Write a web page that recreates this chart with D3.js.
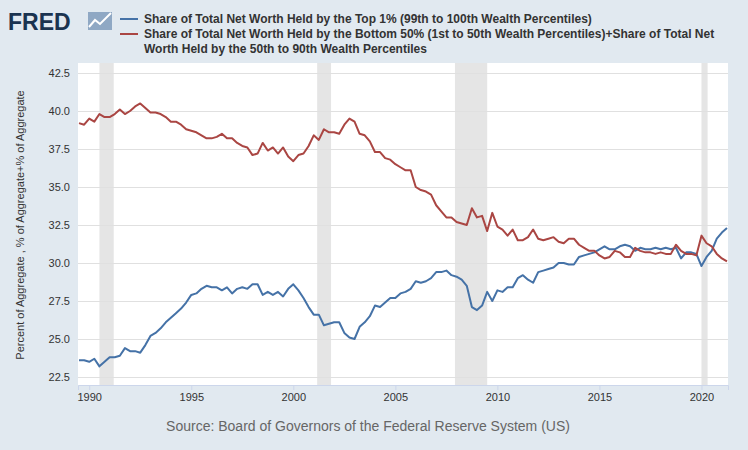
<!DOCTYPE html>
<html><head><meta charset="utf-8">
<script src="https://cdn.jsdelivr.net/npm/d3@7"></script>
<style>body{margin:0;background:#e1e9f0}svg{font-family:"Liberation Sans",Arial,sans-serif}</style>
</head><body>
<svg id="chart" width="748" height="450"></svg>
<script>
// quarterly, 1989Q3 .. 2021Q2
const startYear = 1989.5;
const top1 = [23.6,23.6,23.5,23.7,23.2,23.5,23.8,23.8,23.9,24.4,24.2,24.2,24.1,24.6,25.2,25.4,25.7,26.1,26.4,26.7,27.0,27.4,27.9,28.0,28.3,28.5,28.4,28.4,28.2,28.4,28.0,28.3,28.4,28.3,28.6,28.6,27.9,28.1,27.9,28.1,27.8,28.3,28.6,28.2,27.7,27.1,26.6,26.6,25.9,26.0,26.1,26.1,25.4,25.1,25.0,25.8,26.1,26.5,27.2,27.1,27.4,27.7,27.7,28.0,28.1,28.3,28.8,28.7,28.8,29.0,29.4,29.4,29.5,29.2,29.1,28.9,28.5,27.1,26.9,27.2,28.1,27.5,28.2,28.1,28.4,28.4,29.0,29.2,28.9,28.7,29.4,29.5,29.6,29.7,30.0,30.0,29.9,29.9,30.4,30.5,30.6,30.7,30.9,31.1,30.9,30.9,31.1,31.2,31.1,30.8,31.0,30.9,30.9,31.0,30.9,31.0,30.9,31.0,30.3,30.7,30.7,30.6,29.8,30.4,30.8,31.6,32.0,32.3];
const bottom90 = [39.2,39.1,39.5,39.3,39.8,39.6,39.6,39.8,40.1,39.8,40.0,40.3,40.5,40.2,39.9,39.9,39.8,39.6,39.3,39.3,39.1,38.8,38.7,38.6,38.4,38.2,38.2,38.3,38.5,38.2,38.2,37.9,37.7,37.6,37.1,37.2,37.9,37.4,37.6,37.2,37.6,37.0,36.7,37.1,37.2,37.7,38.4,38.1,38.8,38.6,38.6,38.5,39.1,39.5,39.3,38.5,38.4,38.0,37.3,37.3,36.9,36.8,36.5,36.3,36.1,36.1,35.0,34.8,34.7,34.5,33.8,33.4,33.0,33.0,32.7,32.6,32.5,33.6,33.0,33.1,32.1,33.3,32.4,32.2,31.8,32.2,31.5,31.5,31.7,32.2,31.6,31.5,31.6,31.7,31.4,31.3,31.6,31.6,31.2,31.0,30.8,30.8,30.5,30.3,30.4,30.8,30.7,30.4,30.4,31.0,30.8,30.7,30.7,30.6,30.7,30.6,30.6,31.2,30.8,30.6,30.6,30.5,31.8,31.3,31.1,30.6,30.3,30.1];
const recessions = [[1990.5,1991.2],[2001.17,2001.85],[2007.92,2009.5],[2020.0,2020.3]];
const yTicks = [22.5,25.0,27.5,30.0,32.5,35.0,37.5,40.0,42.5];
const xTicks = [1990,1995,2000,2005,2010,2015,2020];
const legendLabels = [
  ["Share of Total Net Worth Held by the Top 1% (99th to 100th Wealth Percentiles)"],
  ["Share of Total Net Worth Held by the Bottom 50% (1st to 50th Wealth Percentiles)+Share of Total Net","Worth Held by the 50th to 90th Wealth Percentiles"]
];
const colors = ["#4572a7","#aa4643"];

const svg = d3.select("#chart");
const m = {left:78, right:20, top:63, bottom:65};
const W = 748, H = 450;
const x = d3.scaleLinear().domain([1989.45, 2021.3]).range([m.left, W - m.right]);
const y = d3.scaleLinear().domain([22.5, 42.5]).range([377, 73]);

svg.append("rect").attr("x", m.left).attr("y", m.top).attr("width", W - m.left - m.right)
  .attr("height", H - m.top - m.bottom).attr("fill", "#fff");

svg.selectAll(".rec").data(recessions).join("rect")
  .attr("x", d => x(d[0])).attr("y", m.top).attr("width", d => x(d[1]) - x(d[0]))
  .attr("height", H - m.top - m.bottom).attr("fill", "#e5e5e5");

const ya = svg.append("g").attr("transform", `translate(${m.left},0)`)
  .call(d3.axisLeft(y).tickValues(yTicks).tickFormat(d3.format(".1f")).tickSize(-(W - m.left - m.right)));
ya.select(".domain").remove();
ya.selectAll("line").attr("stroke", "#e0e0e0");
ya.selectAll("text").attr("fill", "#333").attr("font-size", 11).attr("x", -8);

const xa = svg.append("g").attr("transform", `translate(0,${H - m.bottom})`)
  .call(d3.axisBottom(x).tickValues(xTicks).tickFormat(d3.format("d")).tickSize(5));
xa.select(".domain").attr("stroke", "#ccd6eb");
xa.selectAll("line").attr("stroke", "#ccd6eb");
xa.selectAll("text").attr("fill", "#333").attr("font-size", 11);

const line = d3.line().x((d, i) => x(startYear + i / 4)).y(d => y(d));
[top1, bottom90].forEach((s, k) => {
  svg.append("path").datum(s).attr("d", line).attr("fill", "none")
    .attr("stroke", colors[k]).attr("stroke-width", 2).attr("stroke-linejoin", "round");
});

svg.append("text").attr("transform", `translate(24,${(73 + 377) / 2}) rotate(-90)`)
  .attr("text-anchor", "middle").attr("font-size", 11).attr("fill", "#333")
  .text("Percent of Aggregate , % of Aggregate+% of Aggregate");

svg.append("text").attr("x", W / 2 - 6).attr("y", 431).attr("text-anchor", "middle")
  .attr("font-size", 14).attr("fill", "#666").text("Source: Board of Governors of the Federal Reserve System (US)");

// logo
svg.append("text").attr("x", 8).attr("y", 30).attr("font-size", 23).attr("font-weight", "900")
  .attr("fill", "#1a3350").text("FRED");
svg.append("rect").attr("x", 88).attr("y", 12).attr("width", 24).attr("height", 18).attr("fill", "#8fa8c4");
svg.append("polyline").attr("points", "89,27 95,20 100,24 111,13").attr("fill", "none").attr("stroke", "#fff").attr("stroke-width", 2);

// legend
let ly = 19;
legendLabels.forEach((lines, k) => {
  svg.append("line").attr("x1", 120).attr("x2", 138).attr("y1", ly).attr("y2", ly)
    .attr("stroke", colors[k]).attr("stroke-width", 2);
  lines.forEach((t, j) => {
    svg.append("text").attr("x", 144).attr("y", ly + 4 + j * 15).attr("font-size", 12)
      .attr("font-weight", "bold").attr("fill", "#333").text(t);
  });
  ly += 15 * lines.length;
});
</script>
</body></html>
